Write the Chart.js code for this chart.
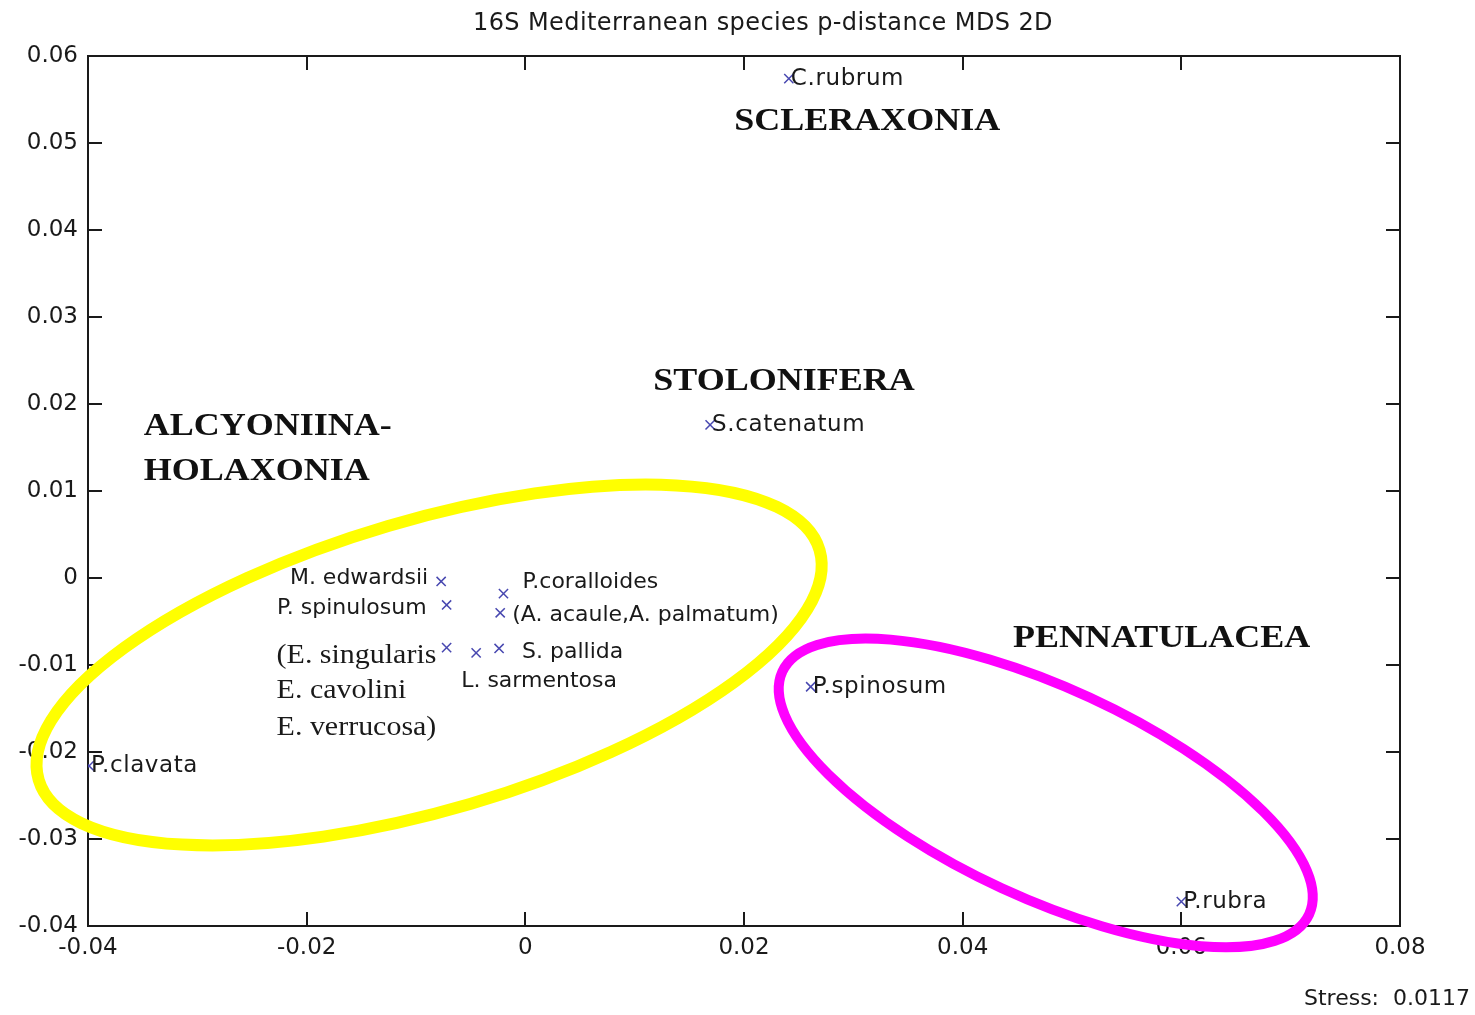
<!DOCTYPE html>
<html>
<head>
<meta charset="utf-8">
<script src="https://cdn.jsdelivr.net/npm/chart.js@4.4.1/dist/chart.umd.min.js"></script>
<style>
  html, body { margin: 0; padding: 0; background: #ffffff; }
  #wrap { width: 1475px; height: 1015px; position: relative; }
</style>
</head>
<body>
<div id="wrap"><canvas id="c" width="1475" height="1015"></canvas></div>
<script>
// ---------- data ----------
const species = ['C.rubrum', 'S.catenatum', 'M. edwardsii', 'P. spinulosum', 'P.coralloides',
  '(A. acaule,A. palmatum)', '(E. singularis', 'L. sarmentosa', 'S. pallida',
  'P.clavata', 'P.spinosum', 'P.rubra'];
const xValues = [0.0241, 0.0169, -0.0077, -0.0072, -0.0020, -0.0023, -0.0072, -0.0045, -0.0024, -0.0399, 0.0261, 0.0600];
const yValues = [0.0574, 0.0176, -0.0004, -0.0031, -0.0018, -0.0040, -0.0080, -0.0086, -0.0081, -0.0216, -0.0125, -0.0372];

const xTickValues = [-0.04, -0.02, 0, 0.02, 0.04, 0.06, 0.08];
const xTickLabels = ['-0.04', '-0.02', '0', '0.02', '0.04', '0.06', '0.08'];
const yTickValues = [0.06, 0.05, 0.04, 0.03, 0.02, 0.01, 0, -0.01, -0.02, -0.03, -0.04];
const yTickLabels = ['0.06', '0.05', '0.04', '0.03', '0.02', '0.01', '0', '-0.01', '-0.02', '-0.03', '-0.04'];

const titleText = '16S Mediterranean species p-distance MDS 2D';
const stressText = 'Stress:  0.0117';

// extra lines belonging to the "(E. singularis" label
const extraLines = { '(E. singularis': ['E. cavolini', 'E. verrucosa)'] };

// group names (anchored in data coordinates)
const groupNames = ['SCLERAXONIA', 'STOLONIFERA', 'ALCYONIINA-', 'HOLAXONIA', 'PENNATULACEA'];
const groupX = [0.0191, 0.0117, -0.0349, -0.0349, 0.0446];
const groupY = [0.0525, 0.0226, 0.0174, 0.0122, -0.0070];

// ellipses (centres in data units)
const ellipseCx = [-0.0088, 0.0476];
const ellipseCy = [-0.0100, -0.0247];

// ---------- styles / placement (pixels) ----------
// kind: 'pt' = label starting at the point, 'cl' = cluster label, 'serif' = serif list
const labelPlacement = [
  { dx: 2, dy: 0, align: 'left', kind: 'pt' },
  { dx: 2, dy: 0, align: 'left', kind: 'pt' },
  { dx: -13, dy: -3, align: 'right', kind: 'cl' },
  { dx: -20, dy: 3, align: 'right', kind: 'cl' },
  { dx: 19, dy: -11, align: 'left', kind: 'cl' },
  { dx: 12, dy: 2, align: 'left', kind: 'cl' },
  { dx: -170, dy: 8, align: 'left', kind: 'serif' },
  { dx: -15, dy: 28, align: 'left', kind: 'cl' },
  { dx: 23, dy: 4, align: 'left', kind: 'cl' },
  { dx: 2, dy: 0, align: 'left', kind: 'pt' },
  { dx: 2, dy: 0, align: 'left', kind: 'pt' },
  { dx: 2, dy: 0, align: 'left', kind: 'pt' }
];
const ellipseStyle = [
  { rx: 407, ry: 145, rot: -16.4, color: '#ffff00', width: 12 },
  { rx: 290, ry: 105, rot: 24.75, color: '#ff00ff', width: 10 }
];
const SANS = '"DejaVu Sans", "Liberation Sans", Arial, sans-serif';
const SERIF = '"Liberation Serif", "Times New Roman", serif';
const INK = '#1a1a1a';
const MARK = '#4848b0';

function drawText(ctx, txt, x, y, font, align, color, stretch, spacing) {
  ctx.save();
  ctx.font = font;
  ctx.fillStyle = color;
  ctx.textBaseline = 'middle';
  ctx.textAlign = align;
  if ('letterSpacing' in ctx) ctx.letterSpacing = (spacing || 0) + 'px';
  ctx.translate(x, y);
  ctx.scale(stretch || 1, 1);
  ctx.fillText(txt, 0, 0);
  ctx.restore();
}

const overlay = {
  id: 'overlay',
  beforeDatasetsDraw(chart) {
    const ctx = chart.ctx, a = chart.chartArea;
    const xs = chart.scales.x, ys = chart.scales.y;
    ctx.save();
    ctx.strokeStyle = INK;
    ctx.lineWidth = 2;
    ctx.strokeRect(a.left, a.top, a.right - a.left, a.bottom - a.top);
    const tl = 14;
    ctx.beginPath();
    xs.ticks.forEach(t => {
      const px = Math.round(xs.getPixelForValue(t.value));
      ctx.moveTo(px, a.bottom); ctx.lineTo(px, a.bottom - tl);
      ctx.moveTo(px, a.top); ctx.lineTo(px, a.top + tl);
    });
    ys.ticks.forEach(t => {
      const py = Math.round(ys.getPixelForValue(t.value));
      ctx.moveTo(a.left, py); ctx.lineTo(a.left + tl, py);
      ctx.moveTo(a.right, py); ctx.lineTo(a.right - tl, py);
    });
    ctx.stroke();
    ctx.restore();
  },
  afterDatasetsDraw(chart) {
    const ctx = chart.ctx;
    const xs = chart.scales.x, ys = chart.scales.y;
    species.forEach((name, i) => {
      const p = labelPlacement[i];
      const px = xs.getPixelForValue(xValues[i]) + p.dx;
      const py = ys.getPixelForValue(yValues[i]) + p.dy;
      if (p.kind === 'serif') {
        drawText(ctx, name, px, py, '28px ' + SERIF, p.align, INK, 1.07, 0);
        (extraLines[name] || []).forEach((ln, k) => {
          drawText(ctx, ln, px, py + 35 * (k + 1) + (k ? 2 : 0), '28px ' + SERIF, p.align, INK, 1.07, 0);
        });
      } else if (p.kind === 'cl') {
        drawText(ctx, name, px, py, '22px ' + SANS, p.align, INK, 1, 0);
      } else {
        drawText(ctx, name, px, py, '23px ' + SANS, p.align, INK, 1, 0.6);
      }
    });
    groupNames.forEach((g, i) => {
      drawText(ctx, g, xs.getPixelForValue(groupX[i]), ys.getPixelForValue(groupY[i]),
        'bold 32px ' + SERIF, 'left', '#111111', 1.125, 0);
    });
    drawText(ctx, titleText, 763, 24, '24px ' + SANS, 'center', INK, 1, 0.4);
    drawText(ctx, stressText, 1470, 999, '22px ' + SANS, 'right', INK, 1, 0);
  },
  afterDraw(chart) {
    const ctx = chart.ctx;
    const xs = chart.scales.x, ys = chart.scales.y;
    ellipseStyle.forEach((e, i) => {
      ctx.save();
      ctx.strokeStyle = e.color;
      ctx.lineWidth = e.width;
      ctx.beginPath();
      ctx.ellipse(xs.getPixelForValue(ellipseCx[i]), ys.getPixelForValue(ellipseCy[i]),
        e.rx, e.ry, e.rot * Math.PI / 180, 0, Math.PI * 2);
      ctx.stroke();
      ctx.restore();
    });
  }
};

new Chart(document.getElementById('c'), {
  type: 'scatter',
  data: {
    datasets: [{
      data: xValues.map((x, i) => ({ x: x, y: yValues[i] })),
      pointStyle: 'crossRot',
      radius: 6.5,
      hoverRadius: 6.5,
      borderWidth: 1.5,
      borderColor: MARK,
      backgroundColor: MARK
    }]
  },
  options: {
    responsive: false,
    animation: false,
    events: [],
    layout: { padding: { top: 56, right: 75, bottom: 0, left: 0 } },
    plugins: { legend: { display: false }, tooltip: { enabled: false }, title: { display: false } },
    scales: {
      x: {
        type: 'linear',
        min: -0.04, max: 0.08,
        afterBuildTicks: s => { s.ticks = xTickValues.map(v => ({ value: v })); },
        afterFit: s => { s.height = 89; },
        grid: { display: false, drawTicks: false },
        border: { display: false },
        ticks: {
          autoSkip: false, maxRotation: 0, padding: 8,
          color: INK, font: { family: SANS, size: 23 },
          callback: (v, i) => xTickLabels[i]
        }
      },
      y: {
        type: 'linear',
        min: -0.04, max: 0.06,
        afterBuildTicks: s => { s.ticks = yTickValues.map(v => ({ value: v })); },
        afterFit: s => { s.width = 88; },
        grid: { display: false, drawTicks: false },
        border: { display: false },
        ticks: {
          autoSkip: false, padding: 10,
          color: INK, font: { family: SANS, size: 23 },
          callback: (v, i) => yTickLabels[i]
        }
      }
    }
  },
  plugins: [overlay]
});
</script>
</body>
</html>
